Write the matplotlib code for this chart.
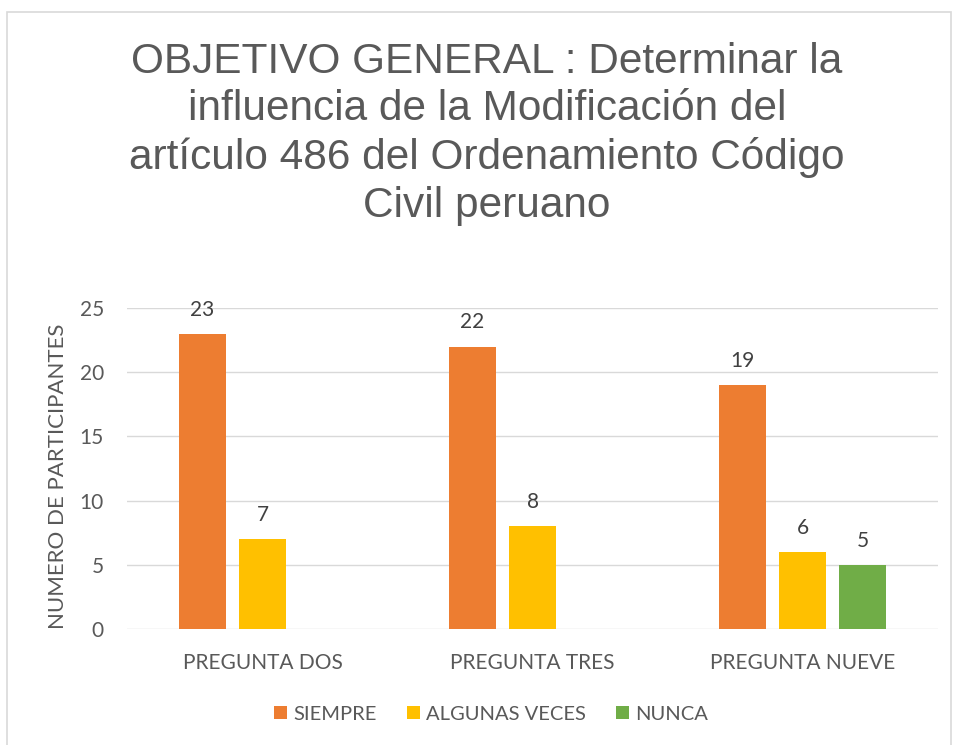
import matplotlib.pyplot as plt
import numpy as np
from matplotlib.patches import Rectangle

categorias = ['PREGUNTA DOS', 'PREGUNTA TRES', 'PREGUNTA NUEVE']
series = ['SIEMPRE', 'ALGUNAS VECES', 'NUNCA']
siempre = [23, 22, 19]
algunas = [7, 8, 6]
nunca = [0, 0, 5]
colores = ['#ED7D31', '#FFC000', '#70AD47']

fig = plt.figure(figsize=(9.54, 7.45), dpi=100)
ax = fig.add_axes([127.5/954, 1-629/745, 810/954, (629-308)/745])

# marco del grafico
fig.patches.append(Rectangle((7/954, -0.01), 944/954, 1-12/745+0.01, transform=fig.transFigure,
                             fill=False, edgecolor='#d9d9d9', linewidth=1.2))

x = np.arange(len(categorias))
ancho = 47/270
paso = 60/270
valores = [siempre, algunas, nunca]
for i, (nombre, vals) in enumerate(zip(series, valores)):
    pos = x + (i-1)*paso
    ax.bar(pos, vals, ancho, color=colores[i], label=nombre, zorder=3)
    for p, v in zip(pos, vals):
        if v > 0:
            ax.text(p, v + 1.1, str(v), ha='center', va='bottom', fontsize=15,
                    color='#404040', family='Lato')

ax.set_xlim(-0.5, 2.5)
ax.set_ylim(0, 25)
ax.set_yticks([0, 5, 10, 15, 20, 25])
ax.set_xticks(x)
ax.set_xticklabels(categorias)
ax.yaxis.grid(True, color='#d9d9d9', linewidth=1, zorder=0)
for s in ax.spines.values():
    s.set_visible(False)
ax.tick_params(length=0, labelsize=15, labelcolor='#595959')
ax.tick_params(axis='y', pad=17)
ax.tick_params(axis='x', pad=17)
for t in ax.get_xticklabels() + ax.get_yticklabels():
    t.set_family('Lato')
ax.set_ylabel('NUMERO DE PARTICIPANTES', fontsize=16, color='#595959', family='Lato')
ax.yaxis.set_label_coords(-0.073, 0.475)

fig.text(487/954, 1-42/745, 'OBJETIVO GENERAL : Determinar la\ninfluencia de la Modificación del\nartículo 486 del Ordenamiento Código\nCivil peruano',
         ha='center', va='top', fontsize=30.5, color='#595959', family='Liberation Sans', linespacing=1.24)

leg = fig.legend(loc='center', bbox_to_anchor=(491/954, 1-714/745), ncol=3, frameon=False,
                 prop={'family': 'Lato', 'size': 14.5}, handlelength=0.65, handleheight=0.65,
                 handletextpad=0.3, columnspacing=1.5)
for t in leg.get_texts():
    t.set_color('#595959')

fig.savefig('out.png', dpi=100)
